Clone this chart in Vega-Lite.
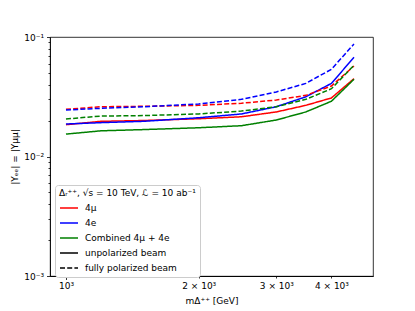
{
  "$schema": "https://vega.github.io/schema/vega-lite/v6.json",
  "width": 323,
  "height": 239,
  "autosize": {"type": "none"},
  "padding": {"left": 50, "top": 37, "right": 42, "bottom": 35},
  "background": "white",
  "config": {
    "font": "DejaVu Sans",
    "view": {"stroke": "black", "strokeWidth": 0.8},
    "axis": {"domainColor": "black", "domainWidth": 0.8, "tickColor": "black", "tickWidth": 0.8, "grid": false, "labelFont": "DejaVu Sans", "labelFontSize": 9, "labelColor": "black", "titleFont": "DejaVu Sans", "titleFontSize": 9, "titleFontWeight": "normal", "titleColor": "black"}
  },
  "data": {"values": [
    {"m": 1000, "Y": 0.01845, "channel": "4μ", "beam": "unpolarized beam", "s": "r1"},
    {"m": 1200, "Y": 0.0197, "channel": "4μ", "beam": "unpolarized beam", "s": "r1"},
    {"m": 1500, "Y": 0.0200, "channel": "4μ", "beam": "unpolarized beam", "s": "r1"},
    {"m": 2000, "Y": 0.0207, "channel": "4μ", "beam": "unpolarized beam", "s": "r1"},
    {"m": 2500, "Y": 0.0215, "channel": "4μ", "beam": "unpolarized beam", "s": "r1"},
    {"m": 3000, "Y": 0.0236, "channel": "4μ", "beam": "unpolarized beam", "s": "r1"},
    {"m": 3500, "Y": 0.0268, "channel": "4μ", "beam": "unpolarized beam", "s": "r1"},
    {"m": 4000, "Y": 0.0309, "channel": "4μ", "beam": "unpolarized beam", "s": "r1"},
    {"m": 4500, "Y": 0.0448, "channel": "4μ", "beam": "unpolarized beam", "s": "r1"},
    {"m": 1000, "Y": 0.0187, "channel": "4e", "beam": "unpolarized beam", "s": "b1"},
    {"m": 1200, "Y": 0.0192, "channel": "4e", "beam": "unpolarized beam", "s": "b1"},
    {"m": 1500, "Y": 0.0197, "channel": "4e", "beam": "unpolarized beam", "s": "b1"},
    {"m": 2000, "Y": 0.0211, "channel": "4e", "beam": "unpolarized beam", "s": "b1"},
    {"m": 2500, "Y": 0.0227, "channel": "4e", "beam": "unpolarized beam", "s": "b1"},
    {"m": 3000, "Y": 0.0261, "channel": "4e", "beam": "unpolarized beam", "s": "b1"},
    {"m": 3500, "Y": 0.0316, "channel": "4e", "beam": "unpolarized beam", "s": "b1"},
    {"m": 4000, "Y": 0.0409, "channel": "4e", "beam": "unpolarized beam", "s": "b1"},
    {"m": 4500, "Y": 0.0676, "channel": "4e", "beam": "unpolarized beam", "s": "b1"},
    {"m": 1000, "Y": 0.0154, "channel": "Combined 4μ + 4e", "beam": "unpolarized beam", "s": "g1"},
    {"m": 1200, "Y": 0.0164, "channel": "Combined 4μ + 4e", "beam": "unpolarized beam", "s": "g1"},
    {"m": 1500, "Y": 0.0168, "channel": "Combined 4μ + 4e", "beam": "unpolarized beam", "s": "g1"},
    {"m": 2000, "Y": 0.0174, "channel": "Combined 4μ + 4e", "beam": "unpolarized beam", "s": "g1"},
    {"m": 2500, "Y": 0.0181, "channel": "Combined 4μ + 4e", "beam": "unpolarized beam", "s": "g1"},
    {"m": 3000, "Y": 0.0202, "channel": "Combined 4μ + 4e", "beam": "unpolarized beam", "s": "g1"},
    {"m": 3500, "Y": 0.0236, "channel": "Combined 4μ + 4e", "beam": "unpolarized beam", "s": "g1"},
    {"m": 4000, "Y": 0.0290, "channel": "Combined 4μ + 4e", "beam": "unpolarized beam", "s": "g1"},
    {"m": 4500, "Y": 0.0443, "channel": "Combined 4μ + 4e", "beam": "unpolarized beam", "s": "g1"},
    {"m": 1000, "Y": 0.0248, "channel": "4μ", "beam": "fully polarized beam", "s": "r2"},
    {"m": 1200, "Y": 0.0261, "channel": "4μ", "beam": "fully polarized beam", "s": "r2"},
    {"m": 1500, "Y": 0.0263, "channel": "4μ", "beam": "fully polarized beam", "s": "r2"},
    {"m": 2000, "Y": 0.0268, "channel": "4μ", "beam": "fully polarized beam", "s": "r2"},
    {"m": 2500, "Y": 0.0279, "channel": "4μ", "beam": "fully polarized beam", "s": "r2"},
    {"m": 3000, "Y": 0.0297, "channel": "4μ", "beam": "fully polarized beam", "s": "r2"},
    {"m": 3500, "Y": 0.0325, "channel": "4μ", "beam": "fully polarized beam", "s": "r2"},
    {"m": 4000, "Y": 0.0389, "channel": "4μ", "beam": "fully polarized beam", "s": "r2"},
    {"m": 4500, "Y": 0.0572, "channel": "4μ", "beam": "fully polarized beam", "s": "r2"},
    {"m": 1000, "Y": 0.0245, "channel": "4e", "beam": "fully polarized beam", "s": "b2"},
    {"m": 1200, "Y": 0.0253, "channel": "4e", "beam": "fully polarized beam", "s": "b2"},
    {"m": 1500, "Y": 0.0261, "channel": "4e", "beam": "fully polarized beam", "s": "b2"},
    {"m": 2000, "Y": 0.0275, "channel": "4e", "beam": "fully polarized beam", "s": "b2"},
    {"m": 2500, "Y": 0.0301, "channel": "4e", "beam": "fully polarized beam", "s": "b2"},
    {"m": 3000, "Y": 0.0347, "channel": "4e", "beam": "fully polarized beam", "s": "b2"},
    {"m": 3500, "Y": 0.0409, "channel": "4e", "beam": "fully polarized beam", "s": "b2"},
    {"m": 4000, "Y": 0.0537, "channel": "4e", "beam": "fully polarized beam", "s": "b2"},
    {"m": 4500, "Y": 0.0874, "channel": "4e", "beam": "fully polarized beam", "s": "b2"},
    {"m": 1000, "Y": 0.0206, "channel": "Combined 4μ + 4e", "beam": "fully polarized beam", "s": "g2"},
    {"m": 1200, "Y": 0.0218, "channel": "Combined 4μ + 4e", "beam": "fully polarized beam", "s": "g2"},
    {"m": 1500, "Y": 0.0220, "channel": "Combined 4μ + 4e", "beam": "fully polarized beam", "s": "g2"},
    {"m": 2000, "Y": 0.0227, "channel": "Combined 4μ + 4e", "beam": "fully polarized beam", "s": "g2"},
    {"m": 2500, "Y": 0.0240, "channel": "Combined 4μ + 4e", "beam": "fully polarized beam", "s": "g2"},
    {"m": 3000, "Y": 0.0261, "channel": "Combined 4μ + 4e", "beam": "fully polarized beam", "s": "g2"},
    {"m": 3500, "Y": 0.0301, "channel": "Combined 4μ + 4e", "beam": "fully polarized beam", "s": "g2"},
    {"m": 4000, "Y": 0.0369, "channel": "Combined 4μ + 4e", "beam": "fully polarized beam", "s": "g2"},
    {"m": 4500, "Y": 0.0580, "channel": "Combined 4μ + 4e", "beam": "fully polarized beam", "s": "g2"}
  ]},
  "resolve": {"axis": {"x": "independent", "y": "independent"}},
  "layer": [
    {
      "mark": {"type": "line", "strokeWidth": 1.5, "clip": true},
      "encoding": {
        "x": {"field": "m", "type": "quantitative",
              "scale": {"type": "log", "domain": [920, 4970], "nice": false},
              "axis": {"orient": "bottom", "values": [2000, 3000, 4000], "tickSize": 2, "labelPadding": 3, "labelExpr": "datum.value == 2000 ? '2 × 10³' : datum.value == 3000 ? '3 × 10³' : '4 × 10³'", "title": "mΔ⁺⁺ [GeV]", "titlePadding": 6}},
        "y": {"field": "Y", "type": "quantitative",
              "scale": {"type": "log", "domain": [0.001, 0.1], "nice": false},
              "axis": {"orient": "left", "values": [0.001, 0.01, 0.1], "tickSize": 3.5, "labelPadding": 3, "labelExpr": "datum.value > 0.05 ? '10⁻¹' : datum.value > 0.005 ? '10⁻²' : '10⁻³'", "title": "|Yₑₑ| = |Yμμ|", "titlePadding": 4}},
        "detail": {"field": "s"},
        "color": {"field": "channel", "type": "nominal",
                  "scale": {"domain": ["4μ", "4e", "Combined 4μ + 4e", "unpolarized beam", "fully polarized beam"], "range": ["#ff0000", "#0000ff", "#008000", "#000000", "#000000"]},
                  "legend": {"title": "Δᵣ⁺⁺, √s = 10 TeV, ℒ = 10 ab⁻¹", "orient": "none", "legendX": 5, "legendY": 148, "symbolType": "stroke", "symbolSize": 324, "symbolStrokeWidth": 1.5, "labelFontSize": 9, "labelFont": "DejaVu Sans", "titleFont": "DejaVu Sans", "titleFontSize": 9, "titleFontWeight": "normal", "titleColor": "black", "labelColor": "black", "padding": 4, "rowPadding": -4.5, "titlePadding": 0, "labelOffset": 6, "strokeColor": "#cccccc", "fillColor": "white", "cornerRadius": 3}},
        "strokeDash": {"field": "beam", "type": "nominal",
                  "scale": {"domain": ["4μ", "4e", "Combined 4μ + 4e", "unpolarized beam", "fully polarized beam"], "range": [[1, 0], [1, 0], [1, 0], [1, 0], [5, 2.2]]},
                  "legend": {"title": "Δᵣ⁺⁺, √s = 10 TeV, ℒ = 10 ab⁻¹", "orient": "none", "legendX": 5, "legendY": 148, "symbolType": "stroke", "symbolSize": 324, "symbolStrokeWidth": 1.5, "labelFontSize": 9, "labelFont": "DejaVu Sans", "titleFont": "DejaVu Sans", "titleFontSize": 9, "titleFontWeight": "normal", "titleColor": "black", "labelColor": "black", "padding": 4, "rowPadding": -4.5, "titlePadding": 0, "labelOffset": 6, "strokeColor": "#cccccc", "fillColor": "white", "cornerRadius": 3}}
      }
    },
    {
      "mark": {"type": "point", "opacity": 0},
      "encoding": {
        "x": {"field": "m", "type": "quantitative",
              "axis": {"orient": "bottom", "values": [1000], "tickSize": 3.5, "labelPadding": 1.5, "labelExpr": "'10³'", "title": null}},
        "y": {"field": "Y", "type": "quantitative",
              "axis": {"orient": "left", "values": [0.002, 0.003, 0.004, 0.005, 0.006, 0.007, 0.008, 0.009, 0.02, 0.03, 0.04, 0.05, 0.06, 0.07, 0.08, 0.09], "tickSize": 2, "labels": false, "domain": false, "title": null}}
      }
    }
  ]
}
